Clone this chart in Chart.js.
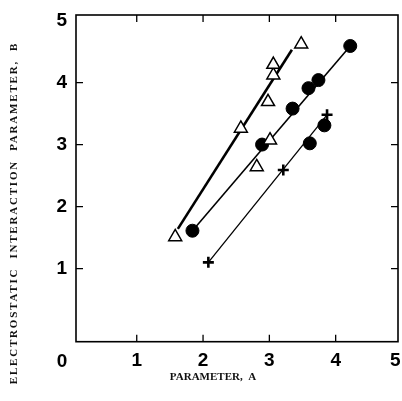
<!DOCTYPE html>
<html lang="en">
<head>
  <meta charset="UTF-8">
  <title>Electrostatic interaction parameter vs parameter A</title>
  <script src="https://cdn.jsdelivr.net/npm/chart.js"></script>
  <style>
    html, body { margin: 0; padding: 0; background: #fff; }
  </style>
</head>
<body>
  <canvas id="grafico" width="402" height="401"></canvas>
  <script>
    // open triangles
    const triX = [1.58, 2.57, 2.81, 2.98, 3.01, 3.06, 3.06, 3.48];
    const triY = [1.51, 3.26, 2.64, 3.69, 3.07, 4.12, 4.29, 4.62];
    // filled circles
    const circX = [1.84, 2.89, 3.35, 3.59, 3.61, 3.74, 3.83, 4.22];
    const circY = [1.61, 3.00, 3.58, 3.91, 3.02, 4.04, 3.31, 4.59];
    // crosses
    const plusX = [2.08, 3.21, 3.87];
    const plusY = [1.10, 2.59, 3.48];

    // fitted lines (end points)
    const triLineX = [1.62, 3.34];
    const triLineY = [1.64, 4.53];
    const circLineX = [1.84, 4.22];
    const circLineY = [1.61, 4.59];
    const plusLineX = [2.08, 3.87];
    const plusLineY = [1.10, 3.48];

    // axis ticks
    const xTicks = [1, 2, 3, 4, 4.9];
    const xTickLabels = ['1', '2', '3', '4', '5'];
    const yTicks = [1, 2, 3, 4, 5];
    const yTickLabels = ['1', '2', '3', '4', '5'];
    const cornerLabel = '0';
    const xTitle = 'PARAMETER,  A';
    const yTitle = 'ELECTROSTATIC  INTERACTION  PARAMETER,  B';

    const pts = (xs, ys) => xs.map((x, i) => ({ x: x, y: ys[i] }));

    // box, inward ticks, corner label and axis titles
    const moldura = {
      id: 'moldura',
      afterDatasetsDraw(chart) {
        const { ctx, chartArea: a, scales } = chart;
        ctx.save();
        ctx.strokeStyle = '#000';
        ctx.lineWidth = 1.6;
        ctx.strokeRect(a.left, a.top, a.right - a.left, a.bottom - a.top);
        ctx.lineWidth = 1.3;
        ctx.beginPath();
        xTicks.forEach((v, i) => {
          if (String(v) !== xTickLabels[i]) return;
          const px = scales.x.getPixelForValue(v);
          ctx.moveTo(px, a.bottom); ctx.lineTo(px, a.bottom - 7);
          ctx.moveTo(px, a.top); ctx.lineTo(px, a.top + 7);
        });
        yTicks.forEach((v, i) => {
          if (v >= 5) return;
          const py = scales.y.getPixelForValue(v);
          ctx.moveTo(a.left, py); ctx.lineTo(a.left + 7, py);
          ctx.moveTo(a.right, py); ctx.lineTo(a.right - 7, py);
        });
        ctx.stroke();
        ctx.restore();
      },
      afterDraw(chart) {
        const { ctx, chartArea: a } = chart;
        ctx.save();
        ctx.fillStyle = '#000';
        ctx.textAlign = 'center';
        ctx.textBaseline = 'middle';
        ctx.font = 'bold 19px "Liberation Sans"';
        ctx.fillText(cornerLabel, a.left - 14, a.bottom + 20);

        ctx.fillStyle = '#111';
        ctx.font = 'bold 11px "Liberation Serif"';
        ctx.fillText(xTitle, a.left + 137, a.bottom + 35);

        ctx.translate(14, a.top + 198);
        ctx.rotate(-Math.PI / 2);
        ctx.letterSpacing = '1.8px';
        ctx.fillText(yTitle, 0, 0);
        ctx.restore();
      }
    };

    const tickFont = { family: '"Liberation Sans", Arial, sans-serif', size: 19, weight: 'bold' };

    new Chart(document.getElementById('grafico'), {
      type: 'scatter',
      data: {
        datasets: [
          {
            label: 'triangles', data: pts(triX, triY), order: 0,
            pointStyle: 'triangle', pointRadius: 7.5, pointBackgroundColor: '#fff',
            pointBorderColor: '#000', pointBorderWidth: 1.5
          },
          {
            label: 'circles', data: pts(circX, circY), order: 0,
            pointStyle: 'circle', pointRadius: 6.5, pointBackgroundColor: '#000',
            pointBorderColor: '#000', pointBorderWidth: 1
          },
          {
            label: 'crosses', data: pts(plusX, plusY), order: 0,
            pointStyle: 'cross', pointRadius: 5.5, pointBorderColor: '#000',
            pointBorderWidth: 2.6
          },
          {
            label: 'triangle fit', data: pts(triLineX, triLineY), order: 2,
            showLine: true, pointRadius: 0, borderColor: '#000', borderWidth: 2.6
          },
          {
            label: 'circle fit', data: pts(circLineX, circLineY), order: 2,
            showLine: true, pointRadius: 0, borderColor: '#000', borderWidth: 1.6
          },
          {
            label: 'cross fit', data: pts(plusLineX, plusLineY), order: 2,
            showLine: true, pointRadius: 0, borderColor: '#000', borderWidth: 1.3
          }
        ]
      },
      options: {
        responsive: false,
        animation: false,
        events: [],
        layout: { autoPadding: false, padding: { left: 0, right: 4, top: 15, bottom: 0 } },
        plugins: { legend: { display: false }, tooltip: { enabled: false } },
        scales: {
          x: {
            type: 'linear', min: 0.084, max: 4.94,
            grid: { display: false, drawTicks: false }, border: { display: false },
            afterBuildTicks: s => { s.ticks = xTicks.map(v => ({ value: v })); },
            afterFit: s => { s.height = 59.3; s.paddingLeft = 0; s.paddingRight = 0; },
            ticks: {
              color: '#000', font: tickFont, padding: 8, maxRotation: 0, autoSkip: false,
              callback: (v, i) => xTickLabels[i]
            }
          },
          y: {
            type: 'linear', min: -0.18, max: 5.09,
            grid: { display: false, drawTicks: false }, border: { display: false },
            afterBuildTicks: s => { s.ticks = yTicks.map(v => ({ value: v })); },
            afterFit: s => { s.width = 76; s.paddingTop = 0; s.paddingBottom = 0; },
            ticks: {
              color: '#000', font: tickFont, padding: 9, autoSkip: false,
              callback: (v, i) => yTickLabels[i]
            }
          }
        }
      },
      plugins: [moldura]
    });
  </script>
</body>
</html>
